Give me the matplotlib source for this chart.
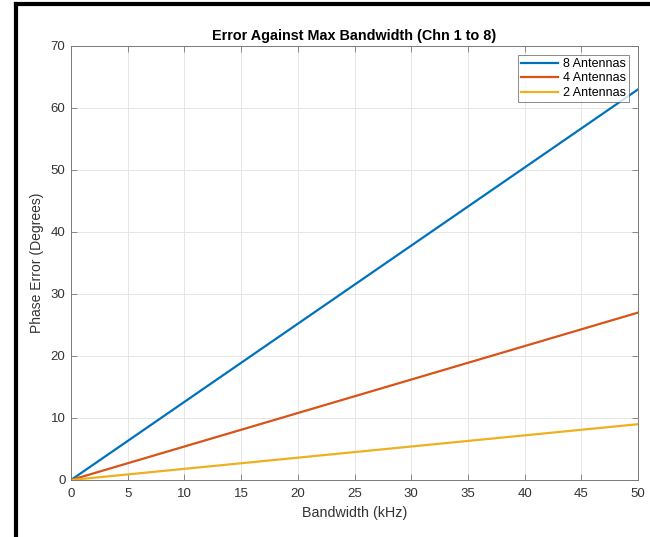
import matplotlib
matplotlib.use('Agg')
import matplotlib.pyplot as plt
from matplotlib.lines import Line2D

plt.rcParams['font.family'] = ['Liberation Sans', 'DejaVu Sans']

# data
bandwidth = [0, 50]
err_8 = [0, 63]
err_4 = [0, 27]
err_2 = [0, 9]
labels = ['8 Antennas', '4 Antennas', '2 Antennas']
colors = ['#0072BD', '#D95319', '#EDB120']

fig = plt.figure(figsize=(6.5, 5.37), dpi=100)
ax = fig.add_axes([71/650, 1 - 480/537, (638-71)/650, (480-46)/537])

for y, lab, c in zip([err_8, err_4, err_2], labels, colors):
    ax.plot(bandwidth, y, color=c, lw=1.6, label=lab)

ax.set_xlim(0, 50)
ax.set_ylim(0, 70)
ax.set_xticks(range(0, 51, 5))
ax.set_yticks(range(0, 71, 10))
ax.grid(True, color='#e6e6e6', lw=0.7)
ax.set_axisbelow(True)
ax.tick_params(direction='in', top=True, right=True, length=4, width=0.6,
               color='#7a7a7a', labelsize=9.5, labelcolor='#333333')
ax.tick_params(axis='x', pad=6)
ax.tick_params(axis='y', pad=4)
for s in ax.spines.values():
    s.set_color('#7a7a7a')
    s.set_linewidth(0.7)

ax.set_title('Error Against Max Bandwidth (Chn 1 to 8)', fontsize=10.4,
             fontweight='bold', pad=4)
ax.set_xlabel('Bandwidth (kHz)', fontsize=10.3, color='#333333', labelpad=4)
ax.set_ylabel('Phase Error (Degrees)', fontsize=10, color='#333333', labelpad=5)

leg = ax.legend(loc='upper right', fontsize=9, frameon=True, fancybox=False,
                borderpad=0.25, labelspacing=0.2, handlelength=3.0,
                handletextpad=0.4, borderaxespad=0.7)
leg.get_frame().set_edgecolor('#555555')
leg.get_frame().set_linewidth(0.6)

# black frame on the left and top of the figure
fig.add_artist(Line2D([16/650, 16/650], [0, 1 - 4/537], color='black', lw=3))
fig.add_artist(Line2D([16/650, 1], [1 - 4/537, 1 - 4/537], color='black', lw=3))

fig.savefig('out.png', dpi=100)
